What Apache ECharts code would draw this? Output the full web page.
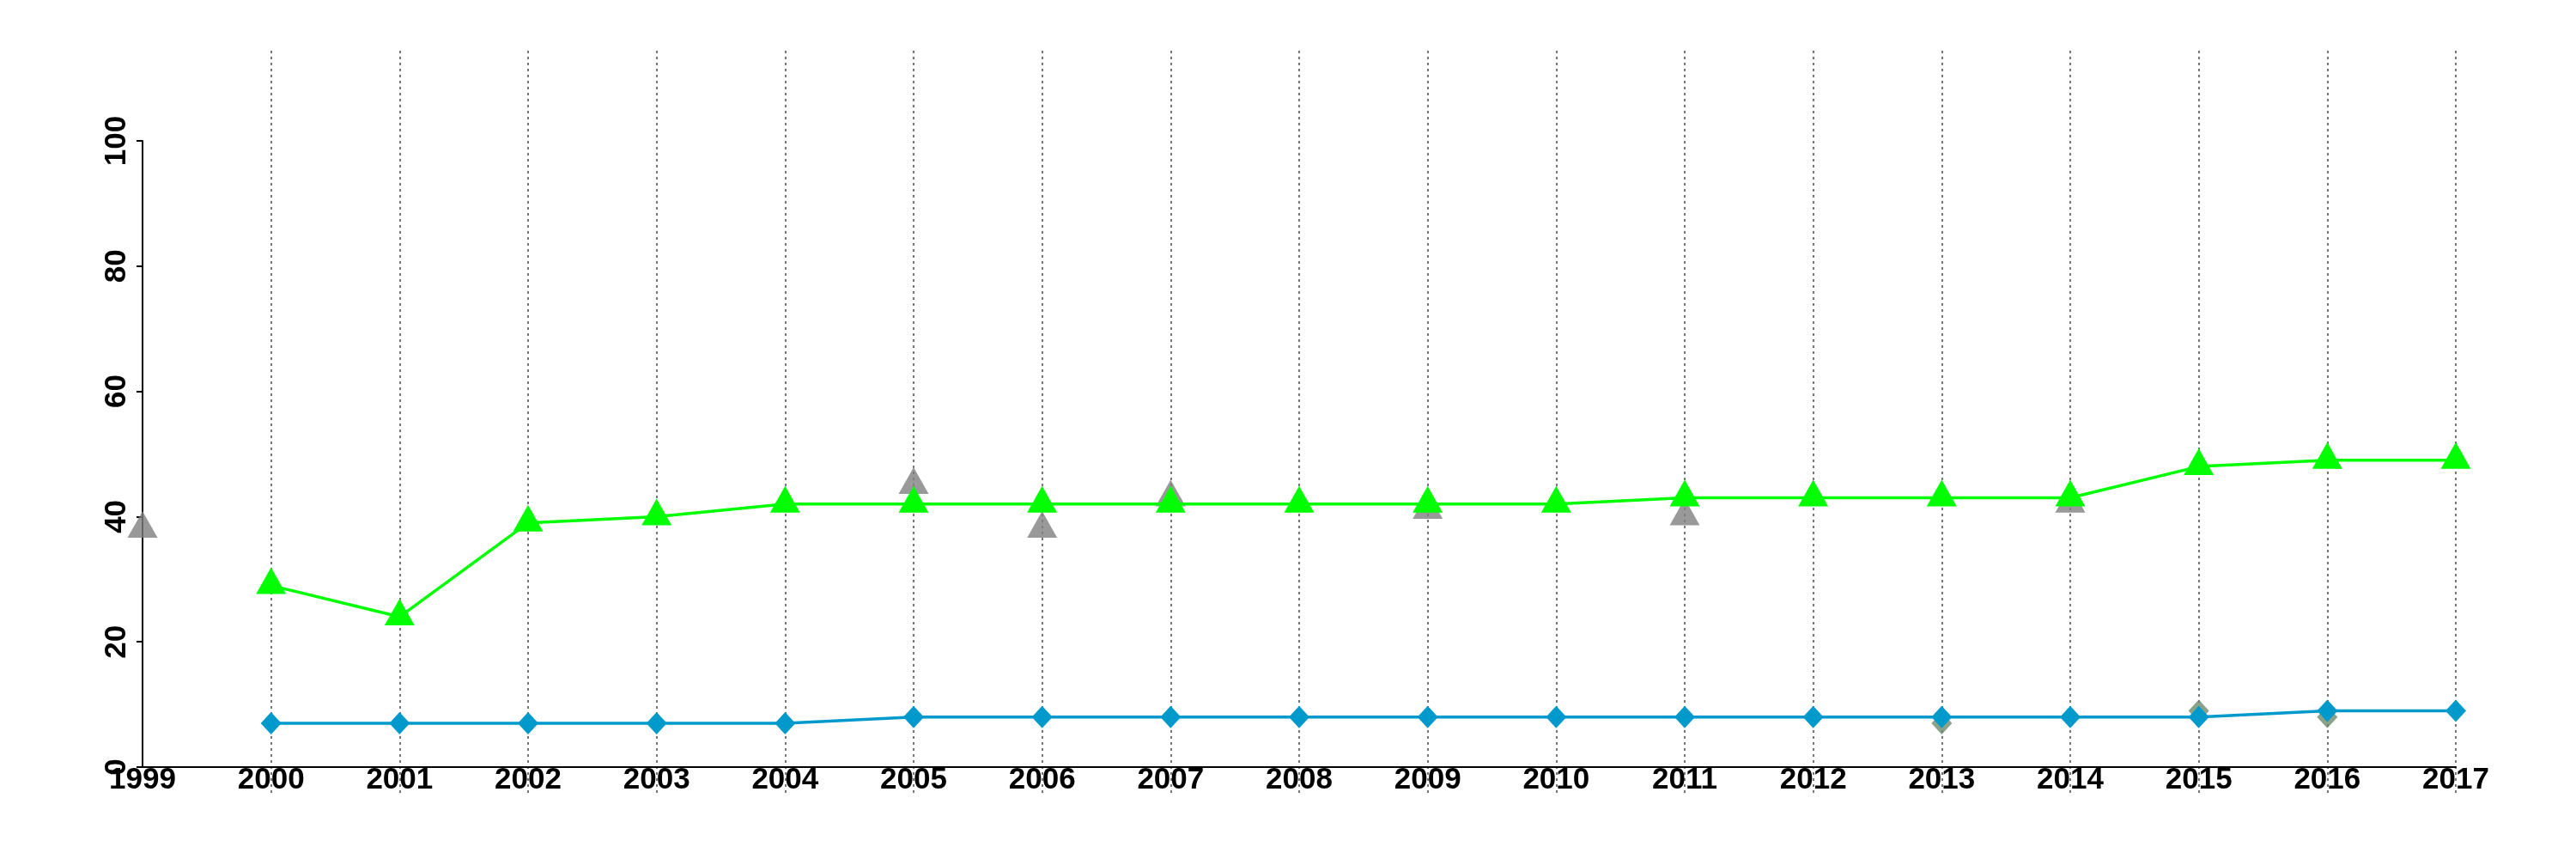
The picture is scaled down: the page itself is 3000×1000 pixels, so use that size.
<!DOCTYPE html>
<html>
<head>
<meta charset="utf-8">
<script src="https://cdn.jsdelivr.net/npm/echarts@6/dist/echarts.min.js"></script>
<style>
html,body{margin:0;padding:0;background:#fff;}
#chart{width:3000px;height:1000px;}
</style>
</head>
<body>
<div id="chart"></div>
<script>
var years = [1999,2000,2001,2002,2003,2004,2005,2006,2007,2008,2009,2010,2011,2012,2013,2014,2015,2016,2017];
var greenVals = [null,29,24,39,40,42,42,42,42,42,42,42,43,43,43,43,48,49,49];
var blueVals = [null,7,7,7,7,7,8,8,8,8,8,8,8,8,8,8,8,9,9];
var grayTriVals = [38,null,null,null,null,null,45,38,43,null,41,null,40,null,null,42,null,null,null];
var grayDiaVals = [null,null,null,null,null,null,null,null,null,null,null,null,null,null,7,null,9,8,null];
var yTicks = [0,20,40,60,80,100];

function pairs(vals){
  var out = [];
  for (var i = 0; i < years.length; i++) {
    if (vals[i] !== null) out.push([years[i], vals[i]]);
  }
  return out;
}
function linePairs(vals){
  var out = [];
  for (var i = 0; i < years.length; i++) out.push([years[i], vals[i]]);
  return out;
}

var font = "'Liberation Sans', Arial, Helvetica, sans-serif";
var chart = echarts.init(document.getElementById('chart'), null, {renderer:'canvas'});
chart.setOption({
  animation: false,
  backgroundColor: '#ffffff',
  grid: [
    {left: 166, right: 140, top: 164, bottom: 107},
    {left: 166, right: 140, top: 59, bottom: 73}
  ],
  xAxis: [
    {
      gridIndex: 0, type: 'value', min: years[0], max: years[years.length-1], interval: 1,
      axisLine: {show: true, lineStyle: {color: '#000', width: 2}},
      axisTick: {show: false},
      splitLine: {show: false},
      axisLabel: {show: true, color: '#000', fontSize: 35, fontWeight: 'bold', fontFamily: font, margin: -2,
        showMinLabel: true, showMaxLabel: true, hideOverlap: false,
        formatter: function(v){ return String(v); }}
    },
    {
      gridIndex: 1, type: 'value', min: years[0], max: years[years.length-1], interval: 1,
      axisLine: {show: false}, axisTick: {show: false}, axisLabel: {show: false},
      splitLine: {show: true, showMinLine: false, showMaxLine: true,
        lineStyle: {color: '#777777', width: 2, type: [3, 4]}}
    }
  ],
  yAxis: [
    {
      gridIndex: 0, type: 'value', min: yTicks[0], max: yTicks[yTicks.length-1], interval: 20,
      axisLine: {show: true, lineStyle: {color: '#000', width: 2}},
      axisTick: {show: true, length: 7, lineStyle: {color: '#000', width: 2}},
      splitLine: {show: false},
      axisLabel: {show: true, rotate: 90, color: '#000', fontSize: 35, fontWeight: 'bold', fontFamily: font, margin: 12,
        showMinLabel: true, showMaxLabel: true}
    },
    {
      gridIndex: 1, type: 'value', min: 0, max: 1, show: false
    }
  ],
  series: [
    {
      name: 'grayTri', type: 'scatter', xAxisIndex: 0, yAxisIndex: 0,
      data: pairs(grayTriVals), symbol: 'triangle', symbolSize: [35, 31], symbolOffset: [0, -5.5],
      itemStyle: {color: '#808080'}, z: 2
    },
    {
      name: 'grayDia', type: 'scatter', xAxisIndex: 0, yAxisIndex: 0,
      data: pairs(grayDiaVals), symbol: 'diamond', symbolSize: [24, 26],
      itemStyle: {color: '#6B8B6B'}, z: 2
    },
    {
      name: 'green', type: 'line', xAxisIndex: 0, yAxisIndex: 0,
      data: linePairs(greenVals), symbol: 'triangle', symbolSize: [35, 31], symbolOffset: [0, -5.5],
      showSymbol: true, showAllSymbol: true,
      lineStyle: {color: '#00FF00', width: 3.5}, itemStyle: {color: '#00FF00'}, z: 3
    },
    {
      name: 'blue', type: 'line', xAxisIndex: 0, yAxisIndex: 0,
      data: linePairs(blueVals), symbol: 'diamond', symbolSize: [24, 26],
      showSymbol: true, showAllSymbol: true,
      lineStyle: {color: '#0099CC', width: 3.5}, itemStyle: {color: '#0099CC'}, z: 3
    }
  ]
});
</script>
</body>
</html>
